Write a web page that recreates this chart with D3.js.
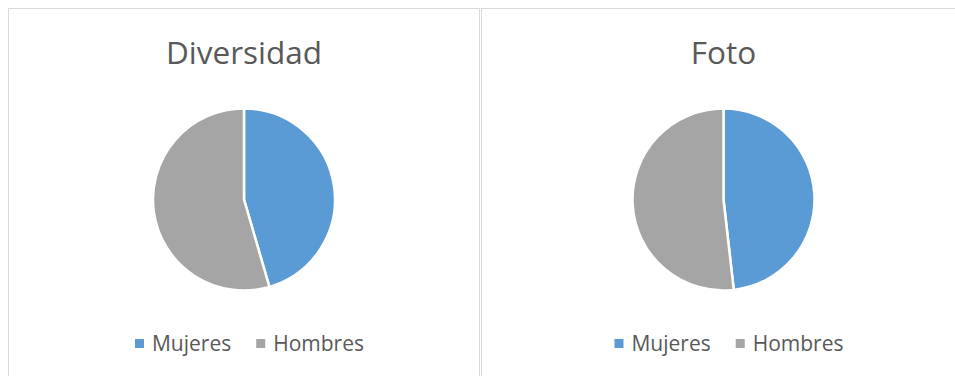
<!DOCTYPE html>
<html>
<head>
<meta charset="utf-8">
<script src="https://cdn.jsdelivr.net/npm/d3@7/dist/d3.min.js"></script>
<style>
  html, body { margin: 0; padding: 0; background: #ffffff; }
  svg { display: block; }
  text { font-family: "Open Sans", "Noto Sans", sans-serif; fill: #595959; }
</style>
</head>
<body>
<svg id="chart" width="955" height="376"></svg>
<script>
// Gender split per category
const categories = ["Mujeres", "Hombres"];
const titles = ["Diversidad", "Foto"];
const diversidadValues = [45.5, 54.5];
const fotoValues = [48.2, 51.8];
const seriesValues = [diversidadValues, fotoValues];
const colors = ["#5B9BD5", "#A5A5A5"];

const W = 955, H = 376;
const svg = d3.select("#chart");

// Panel frames (bottom and right edges run past the view)
const panels = [
  { x: 8.5, w: 471, cx: 244 },
  { x: 481.5, w: 500, cx: 723.5 }
];

const color = d3.scaleOrdinal().domain(categories).range(colors);
const pie = d3.pie().sort(null).value(d => d.value);
const arc = d3.arc().innerRadius(0).outerRadius(91);

panels.forEach((p, i) => {
  const g = svg.append("g");
  g.append("rect")
    .attr("x", p.x).attr("y", 8.5)
    .attr("width", p.w).attr("height", 420)
    .attr("fill", "#ffffff")
    .attr("stroke", "#D9D9D9").attr("stroke-width", 1);

  g.append("text")
    .attr("x", p.cx).attr("y", 64)
    .attr("text-anchor", "middle")
    .style("font-size", "31.5px")
    .text(titles[i]);

  const data = categories.map((c, k) => ({ name: c, value: seriesValues[i][k] }));
  g.append("g")
    .attr("transform", `translate(${p.cx},199.5)`)
    .selectAll("path")
    .data(pie(data))
    .join("path")
    .attr("d", arc)
    .attr("fill", d => color(d.data.name))
    .attr("stroke", "#ffffff")
    .attr("stroke-width", 2.5)
    .attr("stroke-linejoin", "round");

  // Legend: square swatch + label, centred under the pie
  const leg = g.append("g");
  const items = leg.selectAll("g.item").data(categories).join("g").attr("class", "item");
  items.append("rect")
    .attr("width", 9).attr("height", 9)
    .attr("y", 339)
    .attr("fill", d => color(d));
  items.append("text")
    .attr("y", 351)
    .style("font-size", "21px")
    .text(d => d);
  let x = 0;
  const offs = [];
  items.each(function () {
    const t = d3.select(this).select("text").node().getComputedTextLength();
    offs.push(x);
    x += 9 + 8 + t + 25;
  });
  const total = x - 25;
  const start = p.cx + 5.5 - total / 2;
  items.each(function (d, k) {
    const it = d3.select(this);
    it.select("rect").attr("x", start + offs[k]);
    it.select("text").attr("x", start + offs[k] + 17);
  });
});
</script>
</body>
</html>
